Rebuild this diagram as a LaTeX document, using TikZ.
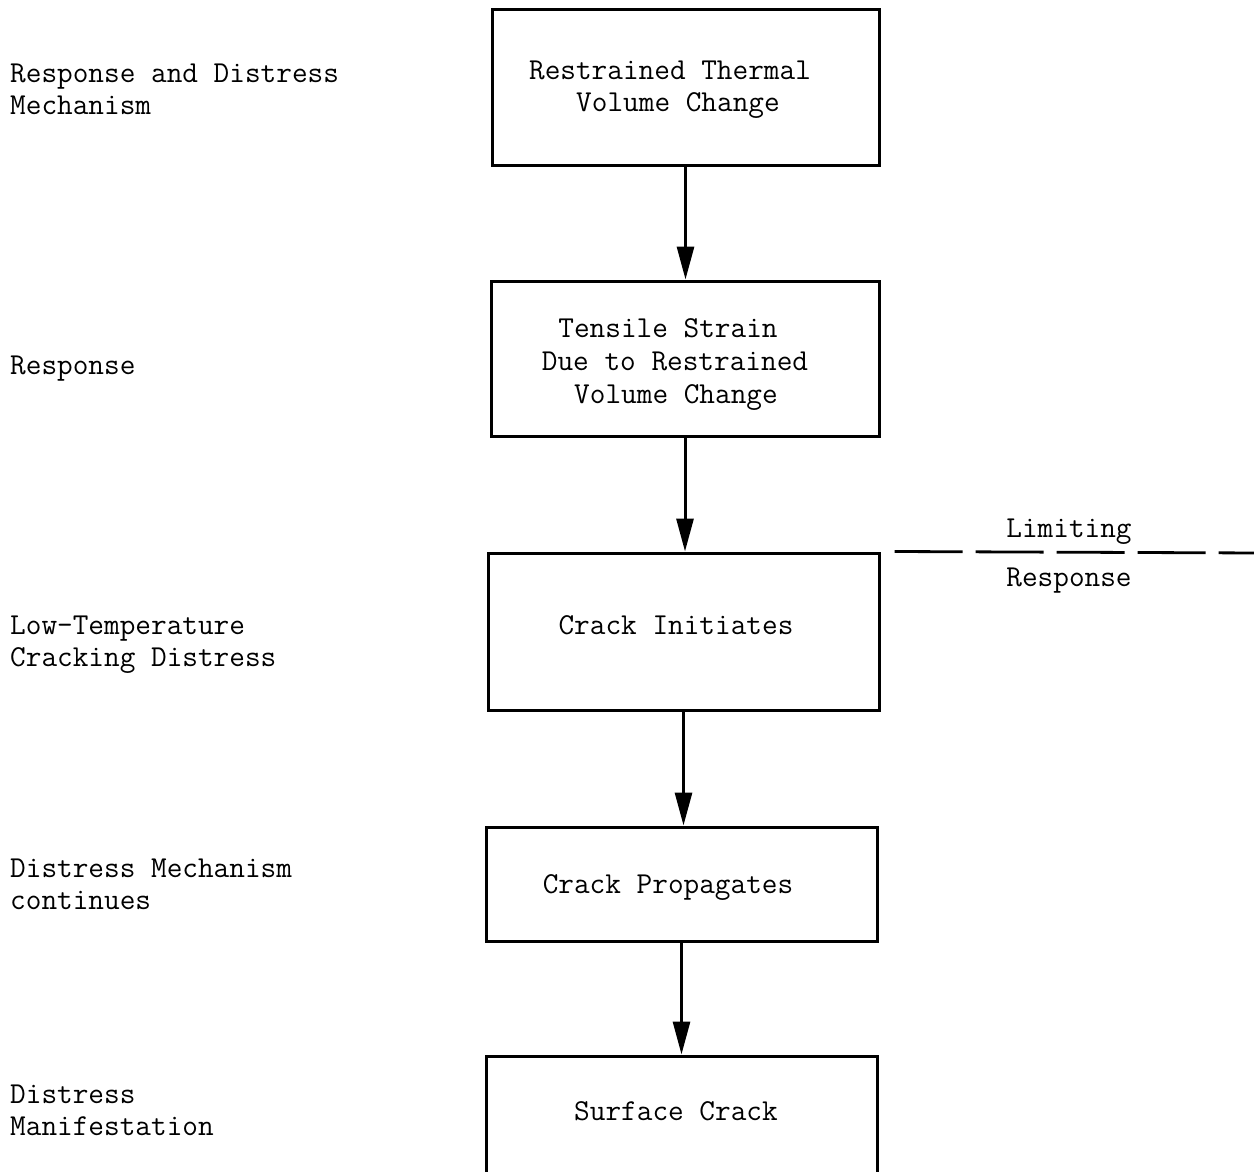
\documentclass[tikz,border=0pt]{standalone}
\usetikzlibrary{arrows.meta}
\tikzset{
  box/.style={draw, line width=3pt, rectangle, inner sep=0pt},
  txt/.style={font=\ttfamily\fontsize{30.4}{32}\selectfont, inner sep=0pt, anchor=base},
  lbl/.style={font=\ttfamily\fontsize{30.4}{32}\selectfont, inner sep=0pt, anchor=base west},
  arr/.style={line width=3pt, -{Triangle[length=33pt,width=17pt]}},
  lim/.style={line width=2.8pt, dash pattern=on 68pt off 13pt}
}
\begin{document}
\begin{tikzpicture}[x=1pt,y=-1pt]
\useasboundingbox (0,0) rectangle (1254,1172);
\clip (0,0) rectangle (1254,1172);
% boxes
\node[box, minimum width=387pt, minimum height=155pt] (b1) at (685.5,87.5) {};
\node[box, minimum width=388pt, minimum height=155pt] (b2) at (685,358.5) {};
\node[box, minimum width=391pt, minimum height=157pt] (b3) at (683.5,631.5) {};
\node[box, minimum width=391pt, minimum height=114pt] (b4) at (681.5,884) {};
\node[box, minimum width=391pt, minimum height=150pt] (b5) at (681.5,1131) {};
% box texts
\node[txt] (t1a) at (670,80) {Restrained Thermal};
\node[txt] (t1b) at (678,112) {Volume Change};
\node[txt] (t2a) at (668,337) {Tensile Strain};
\node[txt] (t2b) at (675,370) {Due to Restrained};
\node[txt] (t2c) at (676,403) {Volume Change};
\node[txt] (t3) at (676,634) {Crack Initiates};
\node[txt] (t4) at (668,893) {Crack Propagates};
\node[txt] (t5) at (676,1120) {Surface Crack};
% left labels
\node[lbl] (l1a) at (10,82) {Response and Distress};
\node[lbl] (l1b) at (10,114) {Mechanism};
\node[lbl] (l2) at (10,374) {Response};
\node[lbl] (l3a) at (10,634) {Low-Temperature};
\node[lbl] (l3b) at (10,666) {Cracking Distress};
\node[lbl] (l4a) at (10,877) {Distress Mechanism};
\node[lbl] (l4b) at (10,909) {continues};
\node[lbl] (l5a) at (10,1103) {Distress};
\node[lbl] (l5b) at (10,1135) {Manifestation};
% limiting response
\node[txt] (limA) at (1069,537) {Limiting};
\node[txt] (limB) at (1069,586) {Response};
\coordinate (dashstart) at ([xshift=14pt]b3.north east);
\coordinate (dashend) at (1260,553);
\draw[lim] (dashstart) -- (dashend);
% arrows
\draw[arr] (b1.south) -- (b1.south |- b2.north);
\draw[arr] (b2.south) -- (b2.south |- b3.north);
\draw[arr] (b3.south) -- (b3.south |- b4.north);
\draw[arr] (b4.south) -- (b4.south |- b5.north);
\end{tikzpicture}
\end{document}
